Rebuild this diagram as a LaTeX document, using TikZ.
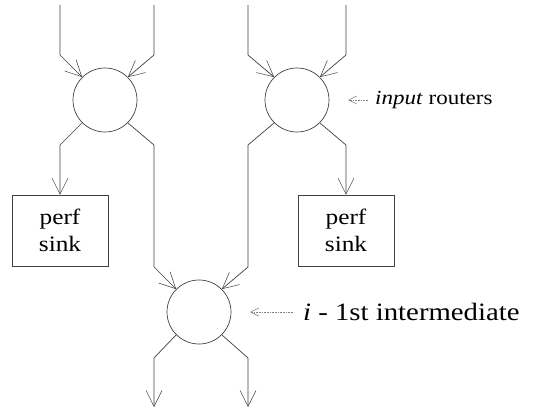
\documentclass[tikz,border=0pt]{standalone}
\usepackage{fontspec}
\setmainfont{Liberation Serif}[FakeStretch=1.15]
\usetikzlibrary{arrows.meta,positioning}

\begin{document}
\begin{tikzpicture}[x=1pt, y=-1pt,
    router/.style={circle, draw=black!75, line width=0.7pt, minimum size=64pt, inner sep=0pt},
    sink/.style={rectangle, draw=black!75, line width=0.7pt, minimum width=96pt, minimum height=71pt, align=center, inner sep=0pt, font=\fontsize{22}{27}\selectfont},
    link/.style={draw=black!75, line width=0.7pt, -{Straight Barb[length=16pt, width=16pt, line width=0.5pt]}},
    pointer/.style={draw=black!50, densely dotted, line width=0.6pt, -{Straight Barb[length=8pt, width=8pt]}},
    tag/.style={anchor=west, inner sep=0pt}
]
\useasboundingbox (0,0) rectangle (549,409);

% Routers
\node[router] (inL) at (105,100) {};
\node[router] (inR) at (297,100) {};
\node[router] (mid) at (199,312) {};

% Sinks
\node[sink] (sinkL) at (60,230.5) {perf\\sink};
\node[sink] (sinkR) at (346,230.5) {perf\\sink};

% Free ends
\coordinate (srcL1) at (60,5);
\coordinate (srcL2) at (154,5);
\coordinate (srcR1) at (248,5);
\coordinate (srcR2) at (346,5);
\coordinate (outL) at (154,407);
\coordinate (outR) at (248,407);

% Inputs
\draw[link] (srcL1) -- (60,55) -- (inL.135);
\draw[link] (srcL2) -- (154,55) -- (inL.45);
\draw[link] (srcR1) -- (248,55) -- (inR.135);
\draw[link] (srcR2) -- (346,55) -- (inR.45);

% Router outputs
\draw[link] (inL.225) -- (60,145) -- (sinkL);
\draw[link] (inL.-45) -- (154,145) -- (154,267) -- (mid.135);
\draw[link] (inR.225) -- (248,145) -- (248,267) -- (mid.45);
\draw[link] (inR.-45) -- (346,145) -- (sinkR);
\draw[link] (mid.225) -- (154,358) -- (outL);
\draw[link] (mid.-45) -- (248,358) -- (outR);

% Side labels
\node[tag, font=\fontsize{20}{24}\selectfont] (inTxt) at (375,100) {\textit{input} routers};
\coordinate (inPt) at (348,100);
\draw[pointer, shorten <=7pt] (inTxt) -- (inPt);

\node[tag, font=\fontsize{25}{30}\selectfont] (midTxt) at (303,312) {\textit{i} - 1st intermediate};
\coordinate (midPt) at (250,312);
\draw[pointer, shorten <=10pt] (midTxt) -- (midPt);

\end{tikzpicture}
\end{document}
